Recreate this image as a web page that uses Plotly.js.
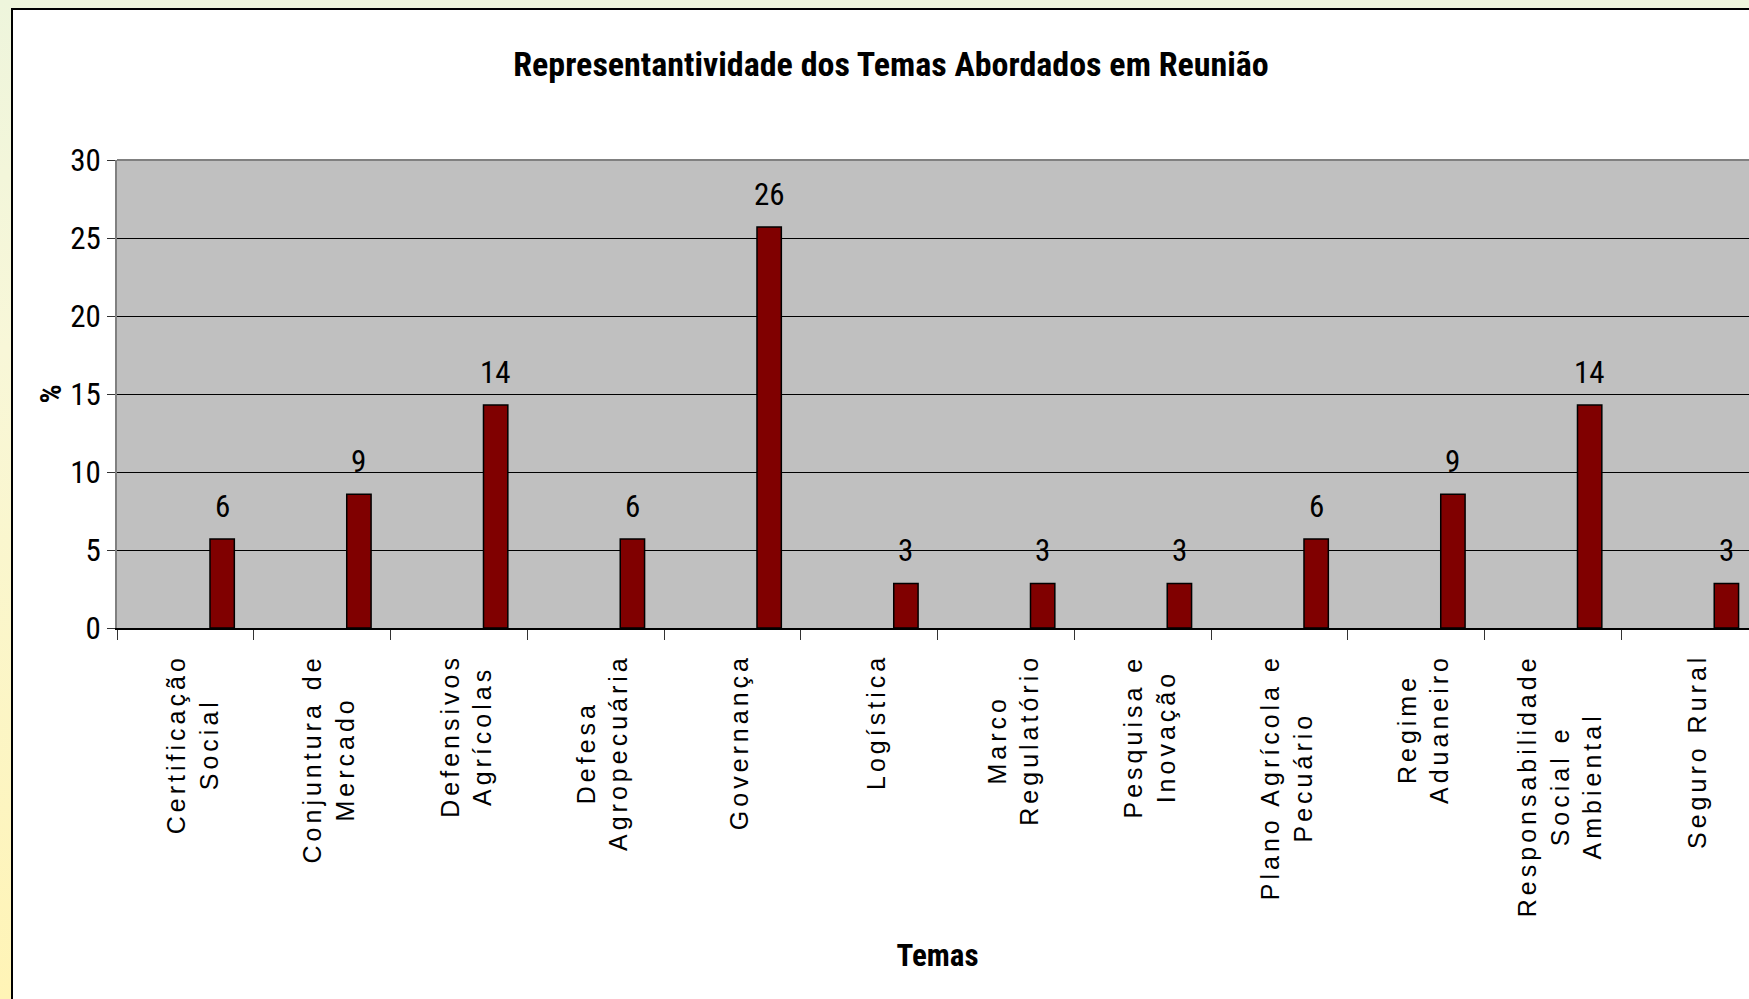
<!DOCTYPE html>
<html>
<head>
<meta charset="utf-8">
<script src="https://cdn.plot.ly/plotly-3.0.1.min.js"></script>
<style>
html, body { margin: 0; padding: 0; width: 1749px; height: 999px; overflow: hidden; }
body { position: relative; background: linear-gradient(180deg, #eef5dc 0%, #f8f7d8 35%, #fff4b6 100%); }
#box { position: absolute; left: 11px; top: 8px; width: 1800px; height: 1100px; background: #ffffff;
       border-left: 2px solid #000; border-top: 2px solid #000; }
#chart { position: absolute; left: 0; top: 0; width: 1760px; height: 999px; }
.annotation-text[style*="font-size: 25px"] { letter-spacing: 4px; }
</style>
</head>
<body>
<div id="box"></div>
<div id="chart"></div>
<script>
// ---- data ----
const categories = [
  "Certificação Social", "Conjuntura de Mercado", "Defensivos Agrícolas", "Defesa Agropecuária",
  "Governança", "Logística", "Marco Regulatório", "Pesquisa e Inovação",
  "Plano Agrícola e Pecuário", "Regime Aduaneiro", "Responsabilidade Social e Ambiental", "Seguro Rural"
];
const tickLabels = [
  "Certificação<br>Social", "Conjuntura de<br>Mercado", "Defensivos<br>Agrícolas", "Defesa<br>Agropecuária",
  "Governança", "Logística", "Marco<br>Regulatório", "Pesquisa e<br>Inovação",
  "Plano Agrícola e<br>Pecuário", "Regime<br>Aduaneiro", "Responsabilidade<br>Social e<br>Ambiental", "Seguro Rural"
];
const values = [5.71, 8.57, 14.29, 5.71, 25.71, 2.86, 2.86, 2.86, 5.71, 8.57, 14.29, 2.86];
const yTickValues = [0, 5, 10, 15, 20, 25, 30];

const chartTitle = "Representantividade dos Temas Abordados em Reunião";
const xTitle = "Temas";
const yTitle = "%";

// ---- styles ----
const NARROW = "'Roboto Condensed', 'Liberation Sans', sans-serif";
const REGULAR = "'Liberation Sans', Arial, sans-serif";
const BAR_OFFSET = 0.18;
const BAR_WIDTH = 0.178;

const barTrace = {
  type: 'bar',
  x: categories,
  y: values,
  offset: BAR_OFFSET,
  width: BAR_WIDTH,
  marker: { color: '#800000', line: { color: '#000000', width: 1.5 } },
  hoverinfo: 'none'
};

const annotations = [];
tickLabels.forEach((t, i) => {
  annotations.push({
    xref: 'x', yref: 'paper', x: i + 0.05, y: 0, yshift: -24,
    xanchor: 'center', yanchor: 'top', textangle: -90, align: 'center',
    text: t, showarrow: false,
    font: { family: REGULAR, size: 25, color: '#000000' }
  });
});
values.forEach((v, i) => {
  annotations.push({
    xref: 'x', yref: 'y', x: i + BAR_OFFSET + BAR_WIDTH / 2, y: v, yshift: 12,
    xanchor: 'center', yanchor: 'bottom',
    text: v.toFixed(0), showarrow: false,
    font: { family: NARROW, size: 31, color: '#000000' }
  });
});

const layout = {
  width: 1760,
  height: 999,
  margin: { l: 117, r: 2, t: 160, b: 371, pad: 0 },
  paper_bgcolor: 'rgba(0,0,0,0)',
  plot_bgcolor: '#c0c0c0',
  showlegend: false,
  title: {
    text: chartTitle,
    xref: 'container', yref: 'container', x: 891 / 1760, y: 1 - 64 / 999,
    xanchor: 'center', yanchor: 'middle',
    font: { family: NARROW, size: 34, weight: 'bold', color: '#000000' }
  },
  xaxis: {
    type: 'category',
    range: [-0.5, categories.length - 0.5],
    showticklabels: false,
    ticks: 'outside', tickson: 'boundaries', ticklen: 10, tickwidth: 1, tickcolor: '#333333',
    showline: true, linecolor: '#000000', linewidth: 2,
    showgrid: false, zeroline: false,
    title: { text: xTitle, standoff: 315, font: { family: NARROW, size: 31, weight: 'bold', color: '#000000' } }
  },
  yaxis: {
    range: [0, 30],
    tickvals: yTickValues,
    ticks: 'outside', ticklen: 8, tickwidth: 1, tickcolor: '#333333',
    showline: true, linecolor: '#808080', linewidth: 2,
    showgrid: true, gridcolor: '#000000', gridwidth: 1,
    zeroline: false,
    tickfont: { family: NARROW, size: 31, color: '#000000' },
    title: { text: yTitle, standoff: 0, font: { family: NARROW, size: 30, weight: 'bold', color: '#000000' } }
  },
  shapes: [
    { type: 'line', xref: 'paper', yref: 'paper', x0: 0, x1: 1, y0: 1, y1: 1,
      line: { color: '#808080', width: 2 }, layer: 'above' }
  ],
  annotations: annotations
};

Plotly.newPlot('chart', [barTrace], layout, { displayModeBar: false, staticPlot: true });
</script>
</body>
</html>
